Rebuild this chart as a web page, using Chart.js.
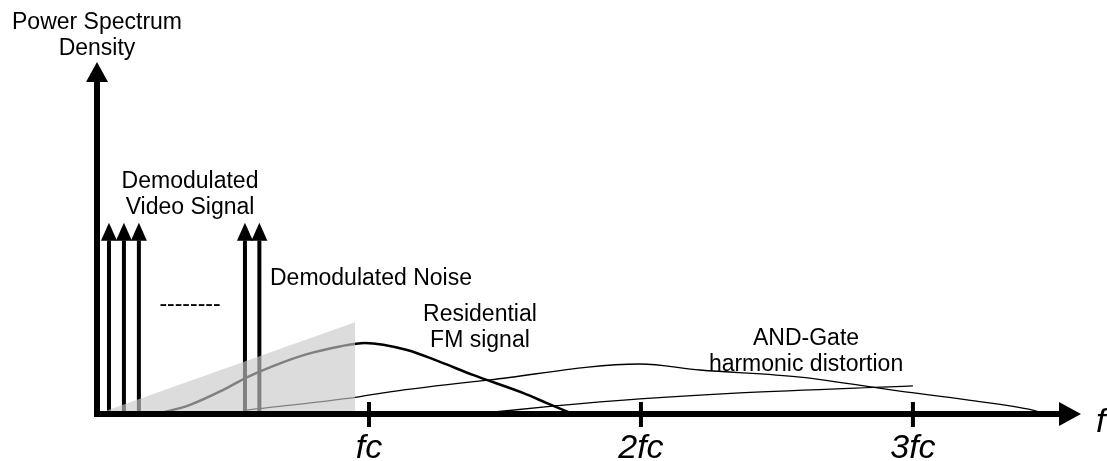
<!DOCTYPE html>
<html>
<head>
<meta charset="utf-8">
<title>Power Spectrum Density</title>
<script src="https://cdn.jsdelivr.net/npm/chart.js@4.4.1/dist/chart.umd.min.js"></script>
<style>
    html, body { margin: 0; padding: 0; background: #fff; }
    #psd-chart { display: block; }
</style>
</head>
<body>
<canvas id="psd-chart" width="1107" height="461"></canvas>
<script>
// x is in multiples of fc, y is relative PSD (0..100)
const tickValues = [1, 2, 3];
const tickLabels = ['fc', '2fc', '3fc'];

// Spectral lines (arrows)
const videoLines = [0.044, 0.099, 0.154];
const noiseLines = [0.544, 0.597];
const lineTop = 54.3;

// Shaded noise floor (triangle)
const noiseFloor = [
    { x: 0, y: 0 },
    { x: 0.949, y: 26.1 }
];

// Residential FM signal
const fmCurve = [
    { x: 0.221, y: 0 },
    { x: 0.342, y: 2.6 },
    { x: 0.463, y: 6.8 },
    { x: 0.551, y: 10.4 },
    { x: 0.647, y: 13.6 },
    { x: 0.772, y: 17.0 },
    { x: 0.893, y: 19.2 },
    { x: 0.985, y: 20.2 },
    { x: 1.140, y: 18.2 },
    { x: 1.261, y: 14.8 },
    { x: 1.382, y: 11.1 },
    { x: 1.566, y: 6.0 },
    { x: 1.654, y: 3.1 },
    { x: 1.750, y: 0 }
];

// AND-Gate harmonic distortion
const harmonicCurve = [
    { x: 0.551, y: 1.1 },
    { x: 0.956, y: 4.8 },
    { x: 1.077, y: 6.3 },
    { x: 1.445, y: 9.7 },
    { x: 1.996, y: 14.2 },
    { x: 2.217, y: 12.5 },
    { x: 2.585, y: 10.5 },
    { x: 2.952, y: 6.5 },
    { x: 3.199, y: 4.0 },
    { x: 3.441, y: 1.1 },
    { x: 3.485, y: 0 }
];

const thirdCurve = [
    { x: 1.390, y: 0 },
    { x: 1.684, y: 2.3 },
    { x: 1.996, y: 4.3 },
    { x: 2.364, y: 6.0 },
    { x: 3.000, y: 8.0 }
];

const LABEL_FONT = "23px 'Liberation Sans', Arial, sans-serif";
const TICK_FONT = "italic 34px 'Liberation Sans', Arial, sans-serif";

// Text annotations, placed in data coordinates
const annotations = [
    { lines: ['Power Spectrum', 'Density'], x: 0, y: 109.4, align: 'center' },
    { lines: ['Demodulated', 'Video Signal'], x: 0.342, y: 64.2, align: 'center' },
    { lines: ['--------'], x: 0.342, y: 29.3, align: 'center' },
    { lines: ['Demodulated Noise'], x: 0.636, y: 36.6, align: 'left' },
    { lines: ['Residential', 'FM signal'], x: 1.408, y: 26.4, align: 'center' },
    { lines: ['AND-Gate', 'harmonic distortion'], x: 2.607, y: 19.6, align: 'center' }
];

function arrowHead(ctx, tipX, tipY, dir, length, halfWidth) {
    ctx.beginPath();
    if (dir === 'up') {
        ctx.moveTo(tipX, tipY);
        ctx.lineTo(tipX - halfWidth, tipY + length);
        ctx.lineTo(tipX + halfWidth, tipY + length);
    } else {
        ctx.moveTo(tipX, tipY);
        ctx.lineTo(tipX - length, tipY - halfWidth);
        ctx.lineTo(tipX - length, tipY + halfWidth);
    }
    ctx.closePath();
    ctx.fill();
}

const diagramPlugin = {
    id: 'diagram',
    afterDatasetsDraw(chart) {
        const { ctx, scales: { x, y }, chartArea } = chart;
        const x0 = x.getPixelForValue(0);
        const y0 = y.getPixelForValue(0);

        ctx.save();
        ctx.fillStyle = '#000';
        ctx.strokeStyle = '#000';

        // axes
        ctx.lineWidth = 6;
        ctx.beginPath();
        ctx.moveTo(x.getPixelForValue(-0.011), y0);
        ctx.lineTo(chartArea.right - 18, y0);
        ctx.moveTo(x0, y0 + 3);
        ctx.lineTo(x0, chartArea.top + 18);
        ctx.stroke();
        arrowHead(ctx, chartArea.right, y0, 'right', 22, 12);
        arrowHead(ctx, x0, chartArea.top, 'up', 20, 11);

        // ticks
        ctx.lineWidth = 4;
        ctx.font = TICK_FONT;
        ctx.textAlign = 'center';
        ctx.textBaseline = 'alphabetic';
        tickValues.forEach((v, i) => {
            const px = x.getPixelForValue(v);
            ctx.beginPath();
            ctx.moveTo(px, y0 - 12);
            ctx.lineTo(px, y0 + 13);
            ctx.stroke();
            ctx.fillText(tickLabels[i], px, y0 + 44);
        });
        ctx.textAlign = 'left';
        ctx.fillText('f', chartArea.right + 15, y0 + 18);

        // spectral line heads
        videoLines.concat(noiseLines).forEach(v => {
            arrowHead(ctx, x.getPixelForValue(v), y.getPixelForValue(lineTop), 'up', 18, 8);
        });

        // labels
        ctx.font = LABEL_FONT;
        annotations.forEach(a => {
            ctx.textAlign = a.align;
            const px = x.getPixelForValue(a.x);
            const py = y.getPixelForValue(a.y);
            a.lines.forEach((line, i) => ctx.fillText(line, px, py + i * 26));
        });

        ctx.restore();
    }
};

function spectralLine(xv) {
    return {
        data: [{ x: xv, y: 0 }, { x: xv, y: lineTop - 5 }],
        borderColor: '#000',
        borderWidth: 4,
        borderCapStyle: 'butt',
        order: 2
    };
}

const datasets = [
    {
        label: 'Demodulated Noise',
        data: noiseFloor,
        borderWidth: 0,
        borderColor: 'rgba(0,0,0,0)',
        backgroundColor: 'rgba(200,200,200,0.64)',
        fill: 'origin',
        order: 0
    },
    {
        label: 'Residential FM signal',
        data: fmCurve,
        borderColor: '#000',
        borderWidth: 2.5,
        cubicInterpolationMode: 'monotone',
        order: 1
    },
    {
        label: 'AND-Gate harmonic distortion',
        data: harmonicCurve,
        borderColor: '#000',
        borderWidth: 1.3,
        cubicInterpolationMode: 'monotone',
        order: 1
    },
    {
        label: 'Harmonic',
        data: thirdCurve,
        borderColor: '#000',
        borderWidth: 1.3,
        cubicInterpolationMode: 'monotone',
        order: 1
    },
    ...videoLines.map(spectralLine),
    ...noiseLines.map(spectralLine)
];

new Chart(document.getElementById('psd-chart'), {
    type: 'line',
    data: { datasets },
    options: {
        responsive: false,
        animation: false,
        devicePixelRatio: 1,
        layout: {
            padding: { left: 97, right: 26, top: 62, bottom: 47 }
        },
        elements: {
            point: { radius: 0 }
        },
        plugins: {
            legend: { display: false },
            tooltip: { enabled: false }
        },
        scales: {
            x: { type: 'linear', display: false, min: 0, max: 3.618 },
            y: { type: 'linear', display: false, min: 0, max: 100 }
        }
    },
    plugins: [diagramPlugin]
});
</script>
</body>
</html>
